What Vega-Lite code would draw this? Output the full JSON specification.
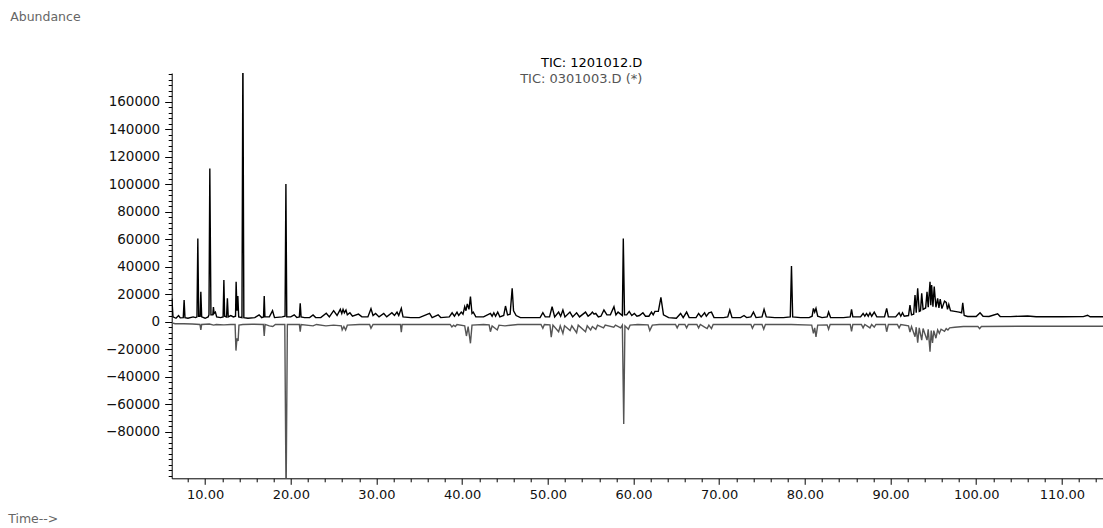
{
  "$schema": "https://vega.github.io/schema/vega-lite/v6.json",
  "width": 931.3,
  "height": 405.3,
  "autosize": "none",
  "padding": {"left": 171.7, "top": 73, "right": 0, "bottom": 49.7},
  "background": "white",
  "config": {"view": {"stroke": null}},
  "title": {"text": "TIC: 1201012.D", "subtitle": "TIC: 0301003.D (*)", "anchor": "middle", "align": "right", "dx": 5, "dy": 80, "font": "DejaVu Sans", "fontSize": 13, "fontWeight": "normal", "color": "#000", "subtitleFont": "DejaVu Sans", "subtitleFontSize": 13, "subtitleColor": "#555", "subtitlePadding": 3},
  "datasets": {
    "tic": [
      {"s":"A","t":6.12,"v":17000},{"s":"A","t":6.25,"v":3500},{"s":"A","t":6.6,"v":2500},{"s":"A","t":6.9,"v":4500},{"s":"A","t":7.1,"v":2800},{"s":"A","t":7.45,"v":3000},{"s":"A","t":7.55,"v":15700},{"s":"A","t":7.65,"v":3000},{"s":"A","t":8.0,"v":2500},{"s":"A","t":8.6,"v":3500},{"s":"A","t":8.9,"v":3000},{"s":"A","t":9.05,"v":3500},{"s":"A","t":9.15,"v":60600},{"s":"A","t":9.25,"v":4000},{"s":"A","t":9.42,"v":4000},{"s":"A","t":9.5,"v":21800},{"s":"A","t":9.6,"v":3500},{"s":"A","t":10.0,"v":2500},{"s":"A","t":10.35,"v":3500},{"s":"A","t":10.45,"v":5000},{"s":"A","t":10.55,"v":111500},{"s":"A","t":10.68,"v":5000},{"s":"A","t":10.9,"v":5000},{"s":"A","t":10.97,"v":10700},{"s":"A","t":11.05,"v":6000},{"s":"A","t":11.2,"v":7000},{"s":"A","t":11.35,"v":3500},{"s":"A","t":11.8,"v":3000},{"s":"A","t":12.1,"v":3500},{"s":"A","t":12.19,"v":30300},{"s":"A","t":12.28,"v":4000},{"s":"A","t":12.5,"v":3500},{"s":"A","t":12.6,"v":17000},{"s":"A","t":12.7,"v":3500},{"s":"A","t":13.0,"v":4500},{"s":"A","t":13.3,"v":3500},{"s":"A","t":13.55,"v":4000},{"s":"A","t":13.62,"v":29100},{"s":"A","t":13.72,"v":8000},{"s":"A","t":13.82,"v":18700},{"s":"A","t":13.92,"v":3500},{"s":"A","t":14.3,"v":3000},{"s":"A","t":14.41,"v":200000},{"s":"A","t":14.52,"v":3000},{"s":"A","t":15.0,"v":2500},{"s":"A","t":15.8,"v":3000},{"s":"A","t":16.3,"v":5000},{"s":"A","t":16.6,"v":3000},{"s":"A","t":16.82,"v":3500},{"s":"A","t":16.9,"v":18700},{"s":"A","t":16.98,"v":3500},{"s":"A","t":17.5,"v":3500},{"s":"A","t":17.87,"v":8000},{"s":"A","t":18.1,"v":3000},{"s":"A","t":19.0,"v":3500},{"s":"A","t":19.33,"v":4000},{"s":"A","t":19.43,"v":100200},{"s":"A","t":19.53,"v":3500},{"s":"A","t":20.0,"v":3500},{"s":"A","t":20.4,"v":5000},{"s":"A","t":20.7,"v":3000},{"s":"A","t":21.0,"v":3500},{"s":"A","t":21.1,"v":13400},{"s":"A","t":21.2,"v":3500},{"s":"A","t":21.6,"v":3000},{"s":"A","t":22.2,"v":3000},{"s":"A","t":22.6,"v":4900},{"s":"A","t":22.9,"v":3000},{"s":"A","t":23.5,"v":3000},{"s":"A","t":24.14,"v":6100},{"s":"A","t":24.5,"v":3500},{"s":"A","t":25.0,"v":8000},{"s":"A","t":25.4,"v":4500},{"s":"A","t":25.78,"v":9000},{"s":"A","t":25.95,"v":6000},{"s":"A","t":26.1,"v":9000},{"s":"A","t":26.25,"v":6500},{"s":"A","t":26.44,"v":8500},{"s":"A","t":26.6,"v":5000},{"s":"A","t":26.9,"v":6500},{"s":"A","t":27.2,"v":4000},{"s":"A","t":27.9,"v":5500},{"s":"A","t":28.3,"v":3500},{"s":"A","t":29.0,"v":3500},{"s":"A","t":29.36,"v":9500},{"s":"A","t":29.6,"v":4500},{"s":"A","t":29.9,"v":6000},{"s":"A","t":30.3,"v":3500},{"s":"A","t":30.85,"v":6000},{"s":"A","t":31.2,"v":3500},{"s":"A","t":31.8,"v":6500},{"s":"A","t":32.1,"v":4500},{"s":"A","t":32.4,"v":7000},{"s":"A","t":32.6,"v":4500},{"s":"A","t":32.9,"v":9700},{"s":"A","t":33.1,"v":3500},{"s":"A","t":34.0,"v":3000},{"s":"A","t":35.0,"v":3000},{"s":"A","t":36.2,"v":6100},{"s":"A","t":36.5,"v":3000},{"s":"A","t":37.2,"v":5000},{"s":"A","t":37.5,"v":3000},{"s":"A","t":38.5,"v":3500},{"s":"A","t":38.83,"v":6500},{"s":"A","t":39.1,"v":4000},{"s":"A","t":39.4,"v":7000},{"s":"A","t":39.6,"v":4500},{"s":"A","t":39.9,"v":7000},{"s":"A","t":40.1,"v":5500},{"s":"A","t":40.3,"v":10900},{"s":"A","t":40.45,"v":8000},{"s":"A","t":40.6,"v":13000},{"s":"A","t":40.8,"v":9000},{"s":"A","t":40.97,"v":18200},{"s":"A","t":41.15,"v":6000},{"s":"A","t":41.3,"v":7000},{"s":"A","t":41.6,"v":3500},{"s":"A","t":42.5,"v":3500},{"s":"A","t":43.3,"v":6100},{"s":"A","t":43.5,"v":4000},{"s":"A","t":43.7,"v":6500},{"s":"A","t":43.9,"v":4000},{"s":"A","t":44.15,"v":7000},{"s":"A","t":44.4,"v":3500},{"s":"A","t":44.85,"v":4500},{"s":"A","t":45.06,"v":11400},{"s":"A","t":45.3,"v":5000},{"s":"A","t":45.6,"v":5500},{"s":"A","t":45.84,"v":24300},{"s":"A","t":46.0,"v":8000},{"s":"A","t":46.3,"v":4500},{"s":"A","t":46.8,"v":3000},{"s":"A","t":48.0,"v":3000},{"s":"A","t":49.1,"v":3000},{"s":"A","t":49.42,"v":6500},{"s":"A","t":49.7,"v":3500},{"s":"A","t":50.2,"v":3500},{"s":"A","t":50.5,"v":10900},{"s":"A","t":50.8,"v":3500},{"s":"A","t":51.26,"v":7000},{"s":"A","t":51.5,"v":4000},{"s":"A","t":51.76,"v":8500},{"s":"A","t":52.0,"v":3500},{"s":"A","t":52.58,"v":7000},{"s":"A","t":52.9,"v":3500},{"s":"A","t":53.36,"v":6500},{"s":"A","t":53.7,"v":3500},{"s":"A","t":54.4,"v":7000},{"s":"A","t":54.7,"v":4000},{"s":"A","t":55.0,"v":5500},{"s":"A","t":55.2,"v":7000},{"s":"A","t":55.4,"v":5500},{"s":"A","t":55.6,"v":6000},{"s":"A","t":55.9,"v":3500},{"s":"A","t":56.2,"v":4000},{"s":"A","t":56.55,"v":8500},{"s":"A","t":56.9,"v":5000},{"s":"A","t":57.3,"v":5000},{"s":"A","t":57.72,"v":10900},{"s":"A","t":57.95,"v":5000},{"s":"A","t":58.2,"v":7000},{"s":"A","t":58.7,"v":4500},{"s":"A","t":58.81,"v":60600},{"s":"A","t":58.95,"v":5000},{"s":"A","t":59.2,"v":5000},{"s":"A","t":59.5,"v":7500},{"s":"A","t":59.8,"v":4500},{"s":"A","t":60.1,"v":6000},{"s":"A","t":60.4,"v":4000},{"s":"A","t":60.7,"v":4500},{"s":"A","t":61.1,"v":6500},{"s":"A","t":61.4,"v":4000},{"s":"A","t":61.8,"v":4000},{"s":"A","t":62.1,"v":7000},{"s":"A","t":62.3,"v":5000},{"s":"A","t":62.5,"v":7500},{"s":"A","t":62.9,"v":7500},{"s":"A","t":63.2,"v":17700},{"s":"A","t":63.5,"v":5000},{"s":"A","t":64.1,"v":3000},{"s":"A","t":65.0,"v":2500},{"s":"A","t":65.5,"v":6000},{"s":"A","t":65.8,"v":3000},{"s":"A","t":66.2,"v":7000},{"s":"A","t":66.5,"v":3000},{"s":"A","t":67.3,"v":3000},{"s":"A","t":67.6,"v":6000},{"s":"A","t":67.9,"v":3500},{"s":"A","t":68.3,"v":6500},{"s":"A","t":68.5,"v":4000},{"s":"A","t":68.8,"v":6500},{"s":"A","t":69.1,"v":7000},{"s":"A","t":69.4,"v":3000},{"s":"A","t":70.5,"v":3000},{"s":"A","t":71.0,"v":3500},{"s":"A","t":71.24,"v":8500},{"s":"A","t":71.5,"v":3000},{"s":"A","t":72.5,"v":3000},{"s":"A","t":72.9,"v":4500},{"s":"A","t":73.2,"v":3000},{"s":"A","t":73.7,"v":3500},{"s":"A","t":74.0,"v":7000},{"s":"A","t":74.3,"v":3000},{"s":"A","t":75.0,"v":3500},{"s":"A","t":75.24,"v":9000},{"s":"A","t":75.5,"v":3500},{"s":"A","t":76.5,"v":3000},{"s":"A","t":77.5,"v":3000},{"s":"A","t":78.3,"v":3500},{"s":"A","t":78.44,"v":40500},{"s":"A","t":78.58,"v":3500},{"s":"A","t":79.5,"v":3000},{"s":"A","t":80.5,"v":3000},{"s":"A","t":80.85,"v":4000},{"s":"A","t":81.0,"v":9700},{"s":"A","t":81.15,"v":7000},{"s":"A","t":81.3,"v":9700},{"s":"A","t":81.5,"v":4000},{"s":"A","t":82.0,"v":3000},{"s":"A","t":82.6,"v":3500},{"s":"A","t":82.77,"v":7000},{"s":"A","t":83.0,"v":3000},{"s":"A","t":84.5,"v":3000},{"s":"A","t":85.3,"v":3500},{"s":"A","t":85.45,"v":9000},{"s":"A","t":85.6,"v":3500},{"s":"A","t":86.5,"v":3500},{"s":"A","t":86.8,"v":6000},{"s":"A","t":87.0,"v":4000},{"s":"A","t":87.2,"v":6000},{"s":"A","t":87.4,"v":4000},{"s":"A","t":87.6,"v":6500},{"s":"A","t":87.8,"v":4000},{"s":"A","t":88.1,"v":7000},{"s":"A","t":88.4,"v":3500},{"s":"A","t":89.3,"v":3500},{"s":"A","t":89.55,"v":9700},{"s":"A","t":89.75,"v":3500},{"s":"A","t":90.6,"v":3500},{"s":"A","t":91.0,"v":6500},{"s":"A","t":91.2,"v":4000},{"s":"A","t":91.4,"v":6500},{"s":"A","t":91.6,"v":4000},{"s":"A","t":92.1,"v":4500},{"s":"A","t":92.27,"v":12100},{"s":"A","t":92.45,"v":5000},{"s":"A","t":92.7,"v":5500},{"s":"A","t":92.86,"v":19400},{"s":"A","t":93.0,"v":6500},{"s":"A","t":93.17,"v":24300},{"s":"A","t":93.35,"v":7500},{"s":"A","t":93.5,"v":8000},{"s":"A","t":93.64,"v":20600},{"s":"A","t":93.8,"v":9000},{"s":"A","t":94.1,"v":10000},{"s":"A","t":94.26,"v":21800},{"s":"A","t":94.4,"v":10500},{"s":"A","t":94.61,"v":29100},{"s":"A","t":94.7,"v":12000},{"s":"A","t":94.8,"v":26600},{"s":"A","t":94.95,"v":11000},{"s":"A","t":95.1,"v":25500},{"s":"A","t":95.3,"v":10500},{"s":"A","t":95.5,"v":17000},{"s":"A","t":95.65,"v":10000},{"s":"A","t":95.8,"v":16500},{"s":"A","t":96.0,"v":9500},{"s":"A","t":96.3,"v":15000},{"s":"A","t":96.5,"v":14000},{"s":"A","t":96.65,"v":9000},{"s":"A","t":96.8,"v":12500},{"s":"A","t":97.0,"v":8000},{"s":"A","t":97.5,"v":7500},{"s":"A","t":98.0,"v":7000},{"s":"A","t":98.3,"v":6500},{"s":"A","t":98.43,"v":13800},{"s":"A","t":98.6,"v":4500},{"s":"A","t":99.0,"v":3800},{"s":"A","t":100.0,"v":3800},{"s":"A","t":100.45,"v":6500},{"s":"A","t":100.8,"v":4000},{"s":"A","t":101.5,"v":3800},{"s":"A","t":102.5,"v":5800},{"s":"A","t":102.8,"v":3800},{"s":"A","t":104.0,"v":3700},{"s":"A","t":106.0,"v":4200},{"s":"A","t":107.0,"v":3600},{"s":"A","t":110.0,"v":3600},{"s":"A","t":112.5,"v":3700},{"s":"A","t":113.0,"v":4700},{"s":"A","t":113.3,"v":3600},{"s":"A","t":114.8,"v":3600},
      {"s":"B","t":6.12,"v":-800},{"s":"B","t":6.5,"v":-1500},{"s":"B","t":7.5,"v":-1500},{"s":"B","t":8.5,"v":-1700},{"s":"B","t":9.4,"v":-2000},{"s":"B","t":9.5,"v":-6000},{"s":"B","t":9.6,"v":-2000},{"s":"B","t":10.5,"v":-1700},{"s":"B","t":11.0,"v":-2500},{"s":"B","t":11.3,"v":-2000},{"s":"B","t":12.2,"v":-2300},{"s":"B","t":13.0,"v":-2000},{"s":"B","t":13.5,"v":-2000},{"s":"B","t":13.6,"v":-21000},{"s":"B","t":13.72,"v":-12000},{"s":"B","t":13.85,"v":-14000},{"s":"B","t":13.95,"v":-2500},{"s":"B","t":14.4,"v":-2000},{"s":"B","t":15.5,"v":-1800},{"s":"B","t":16.8,"v":-2000},{"s":"B","t":16.9,"v":-10400},{"s":"B","t":17.0,"v":-2000},{"s":"B","t":17.5,"v":-3000},{"s":"B","t":17.9,"v":-3500},{"s":"B","t":18.2,"v":-2000},{"s":"B","t":19.3,"v":-2000},{"s":"B","t":19.45,"v":-130000},{"s":"B","t":19.6,"v":-2000},{"s":"B","t":20.3,"v":-2000},{"s":"B","t":21.0,"v":-2000},{"s":"B","t":21.1,"v":-7300},{"s":"B","t":21.2,"v":-2000},{"s":"B","t":22.6,"v":-3000},{"s":"B","t":23.0,"v":-2000},{"s":"B","t":24.1,"v":-3000},{"s":"B","t":25.0,"v":-2500},{"s":"B","t":25.9,"v":-3000},{"s":"B","t":26.0,"v":-6000},{"s":"B","t":26.2,"v":-3500},{"s":"B","t":26.4,"v":-6000},{"s":"B","t":26.6,"v":-2500},{"s":"B","t":28.0,"v":-2000},{"s":"B","t":29.2,"v":-2000},{"s":"B","t":29.36,"v":-4800},{"s":"B","t":29.6,"v":-2000},{"s":"B","t":31.0,"v":-2000},{"s":"B","t":32.8,"v":-2000},{"s":"B","t":32.9,"v":-7700},{"s":"B","t":33.0,"v":-2000},{"s":"B","t":35.0,"v":-2000},{"s":"B","t":38.6,"v":-2000},{"s":"B","t":38.8,"v":-3800},{"s":"B","t":39.0,"v":-2500},{"s":"B","t":39.2,"v":-3500},{"s":"B","t":39.4,"v":-2000},{"s":"B","t":40.3,"v":-3000},{"s":"B","t":40.5,"v":-10400},{"s":"B","t":40.7,"v":-3500},{"s":"B","t":40.97,"v":-15700},{"s":"B","t":41.15,"v":-2500},{"s":"B","t":42.5,"v":-2000},{"s":"B","t":43.15,"v":-2300},{"s":"B","t":43.3,"v":-7300},{"s":"B","t":43.5,"v":-3000},{"s":"B","t":44.1,"v":-6000},{"s":"B","t":44.3,"v":-2500},{"s":"B","t":45.0,"v":-3000},{"s":"B","t":46.5,"v":-2000},{"s":"B","t":49.2,"v":-2000},{"s":"B","t":49.42,"v":-4800},{"s":"B","t":49.6,"v":-2000},{"s":"B","t":50.25,"v":-2300},{"s":"B","t":50.4,"v":-11300},{"s":"B","t":50.6,"v":-2500},{"s":"B","t":51.26,"v":-7300},{"s":"B","t":51.45,"v":-3000},{"s":"B","t":51.76,"v":-8500},{"s":"B","t":51.95,"v":-3000},{"s":"B","t":52.6,"v":-6500},{"s":"B","t":52.8,"v":-3000},{"s":"B","t":53.36,"v":-8000},{"s":"B","t":53.55,"v":-2500},{"s":"B","t":54.4,"v":-7300},{"s":"B","t":54.6,"v":-3000},{"s":"B","t":55.0,"v":-6000},{"s":"B","t":55.2,"v":-3500},{"s":"B","t":55.6,"v":-5500},{"s":"B","t":55.8,"v":-2500},{"s":"B","t":56.5,"v":-4500},{"s":"B","t":56.7,"v":-2500},{"s":"B","t":57.7,"v":-4000},{"s":"B","t":57.9,"v":-2500},{"s":"B","t":58.5,"v":-4500},{"s":"B","t":58.7,"v":-2500},{"s":"B","t":58.86,"v":-74400},{"s":"B","t":59.0,"v":-3000},{"s":"B","t":59.4,"v":-5500},{"s":"B","t":59.6,"v":-2500},{"s":"B","t":60.5,"v":-2000},{"s":"B","t":61.7,"v":-2300},{"s":"B","t":61.9,"v":-6500},{"s":"B","t":62.2,"v":-2500},{"s":"B","t":63.0,"v":-2000},{"s":"B","t":64.9,"v":-2000},{"s":"B","t":65.1,"v":-4500},{"s":"B","t":65.3,"v":-2000},{"s":"B","t":66.0,"v":-2000},{"s":"B","t":66.2,"v":-4500},{"s":"B","t":66.4,"v":-2000},{"s":"B","t":67.4,"v":-2000},{"s":"B","t":67.6,"v":-4500},{"s":"B","t":67.8,"v":-2000},{"s":"B","t":68.3,"v":-4000},{"s":"B","t":68.6,"v":-5000},{"s":"B","t":68.8,"v":-2500},{"s":"B","t":69.1,"v":-5000},{"s":"B","t":69.3,"v":-2000},{"s":"B","t":71.0,"v":-2000},{"s":"B","t":73.7,"v":-2000},{"s":"B","t":73.88,"v":-4800},{"s":"B","t":74.1,"v":-2000},{"s":"B","t":75.0,"v":-2000},{"s":"B","t":75.2,"v":-5500},{"s":"B","t":75.4,"v":-2000},{"s":"B","t":78.4,"v":-2000},{"s":"B","t":80.8,"v":-2500},{"s":"B","t":81.0,"v":-8500},{"s":"B","t":81.15,"v":-4500},{"s":"B","t":81.3,"v":-11000},{"s":"B","t":81.5,"v":-2500},{"s":"B","t":82.6,"v":-2300},{"s":"B","t":82.77,"v":-5500},{"s":"B","t":82.95,"v":-2000},{"s":"B","t":85.3,"v":-2000},{"s":"B","t":85.45,"v":-7000},{"s":"B","t":85.6,"v":-2000},{"s":"B","t":86.6,"v":-2000},{"s":"B","t":86.8,"v":-4500},{"s":"B","t":87.0,"v":-2000},{"s":"B","t":87.6,"v":-4500},{"s":"B","t":87.8,"v":-2000},{"s":"B","t":88.1,"v":-4000},{"s":"B","t":88.3,"v":-2000},{"s":"B","t":89.4,"v":-2000},{"s":"B","t":89.55,"v":-7300},{"s":"B","t":89.75,"v":-2000},{"s":"B","t":90.8,"v":-2000},{"s":"B","t":91.0,"v":-4500},{"s":"B","t":91.2,"v":-2000},{"s":"B","t":92.1,"v":-3000},{"s":"B","t":92.27,"v":-7500},{"s":"B","t":92.45,"v":-3500},{"s":"B","t":92.86,"v":-10900},{"s":"B","t":93.0,"v":-4000},{"s":"B","t":93.17,"v":-15300},{"s":"B","t":93.35,"v":-4500},{"s":"B","t":93.64,"v":-13400},{"s":"B","t":93.8,"v":-5000},{"s":"B","t":94.26,"v":-13400},{"s":"B","t":94.4,"v":-5500},{"s":"B","t":94.61,"v":-21800},{"s":"B","t":94.75,"v":-6500},{"s":"B","t":94.9,"v":-15500},{"s":"B","t":95.05,"v":-6500},{"s":"B","t":95.3,"v":-12000},{"s":"B","t":95.5,"v":-6000},{"s":"B","t":95.7,"v":-8500},{"s":"B","t":95.9,"v":-5500},{"s":"B","t":96.3,"v":-7000},{"s":"B","t":96.5,"v":-5000},{"s":"B","t":96.7,"v":-6000},{"s":"B","t":96.9,"v":-4500},{"s":"B","t":97.5,"v":-4000},{"s":"B","t":98.5,"v":-3500},{"s":"B","t":100.2,"v":-3500},{"s":"B","t":100.4,"v":-5000},{"s":"B","t":100.6,"v":-3500},{"s":"B","t":105.0,"v":-3300},{"s":"B","t":114.8,"v":-3300}
    ]
  },
  "data": {"name": "tic"},
  "layer": [
    {
      "mark": {"type": "line", "clip": true, "strokeWidth": 1.4, "interpolate": "linear"},
      "encoding": {
        "x": {"field": "t", "type": "quantitative", "scale": {"domain": [6.1, 114.8], "nice": false, "zero": false},
          "axis": {"values": [10,20,30,40,50,60,70,80,90,100,110], "format": ".2f", "grid": false, "domainColor": "#000", "domainWidth": 1, "tickColor": "#000", "tickSize": 6, "labelFont": "DejaVu Sans", "labelFontSize": 13, "labelColor": "#111", "labelPadding": 4, "title": "Time-->", "titleFont": "DejaVu Sans", "titleFontSize": 12.5, "titleFontWeight": "normal", "titleColor": "#666", "titleAnchor": "start", "titleAlign": "left", "titleX": -164, "titleY": 44, "titleBaseline": "alphabetic"}},
        "y": {"field": "v", "type": "quantitative", "scale": {"domain": [-113900, 180900], "nice": false, "zero": false},
          "axis": {"values": [-80000,-60000,-40000,-20000,0,20000,40000,60000,80000,100000,120000,140000,160000], "format": "d", "grid": false, "domainColor": "#000", "domainWidth": 1, "tickColor": "#000", "tickSize": 7, "labelFont": "DejaVu Sans", "labelFontSize": 13.5, "labelColor": "#111", "labelPadding": 5, "title": "Abundance", "titleFont": "DejaVu Sans", "titleFontSize": 12.5, "titleFontWeight": "normal", "titleColor": "#666", "titleAngle": 0, "titleAlign": "left", "titleAnchor": "start", "titleX": -162, "titleY": -53, "titleBaseline": "alphabetic"}},
        "color": {"field": "s", "type": "nominal", "scale": {"domain": ["A","B"], "range": ["#000000", "#555555"]}, "legend": null}
      }
    },
    {
      "mark": {"type": "point", "opacity": 0},
      "encoding": {
        "x": {"field": "t", "type": "quantitative", "axis": {"orient": "bottom", "values": [8,12,14,16,18,22,24,26,28,32,34,36,38,42,44,46,48,52,54,56,58,62,64,66,68,72,74,76,78,82,84,86,88,92,94,96,98,102,104,106,108,112,114], "labels": false, "domain": false, "grid": false, "tickColor": "#000", "tickSize": 3.5, "title": null}},
        "y": {"field": "v", "type": "quantitative", "axis": {"orient": "left", "values": [-112000,-108000,-104000,-100000,-96000,-92000,-88000,-84000,-76000,-72000,-68000,-64000,-56000,-52000,-48000,-44000,-36000,-32000,-28000,-24000,-16000,-12000,-8000,-4000,4000,8000,12000,16000,24000,28000,32000,36000,44000,48000,52000,56000,64000,68000,72000,76000,84000,88000,92000,96000,104000,108000,112000,116000,124000,128000,132000,136000,144000,148000,152000,156000,164000,168000,172000,176000,180000], "labels": false, "domain": false, "grid": false, "tickColor": "#000", "tickSize": 3.5, "title": null}}
      }
    }
  ],
  "resolve": {"axis": {"x": "independent", "y": "independent"}}
}
